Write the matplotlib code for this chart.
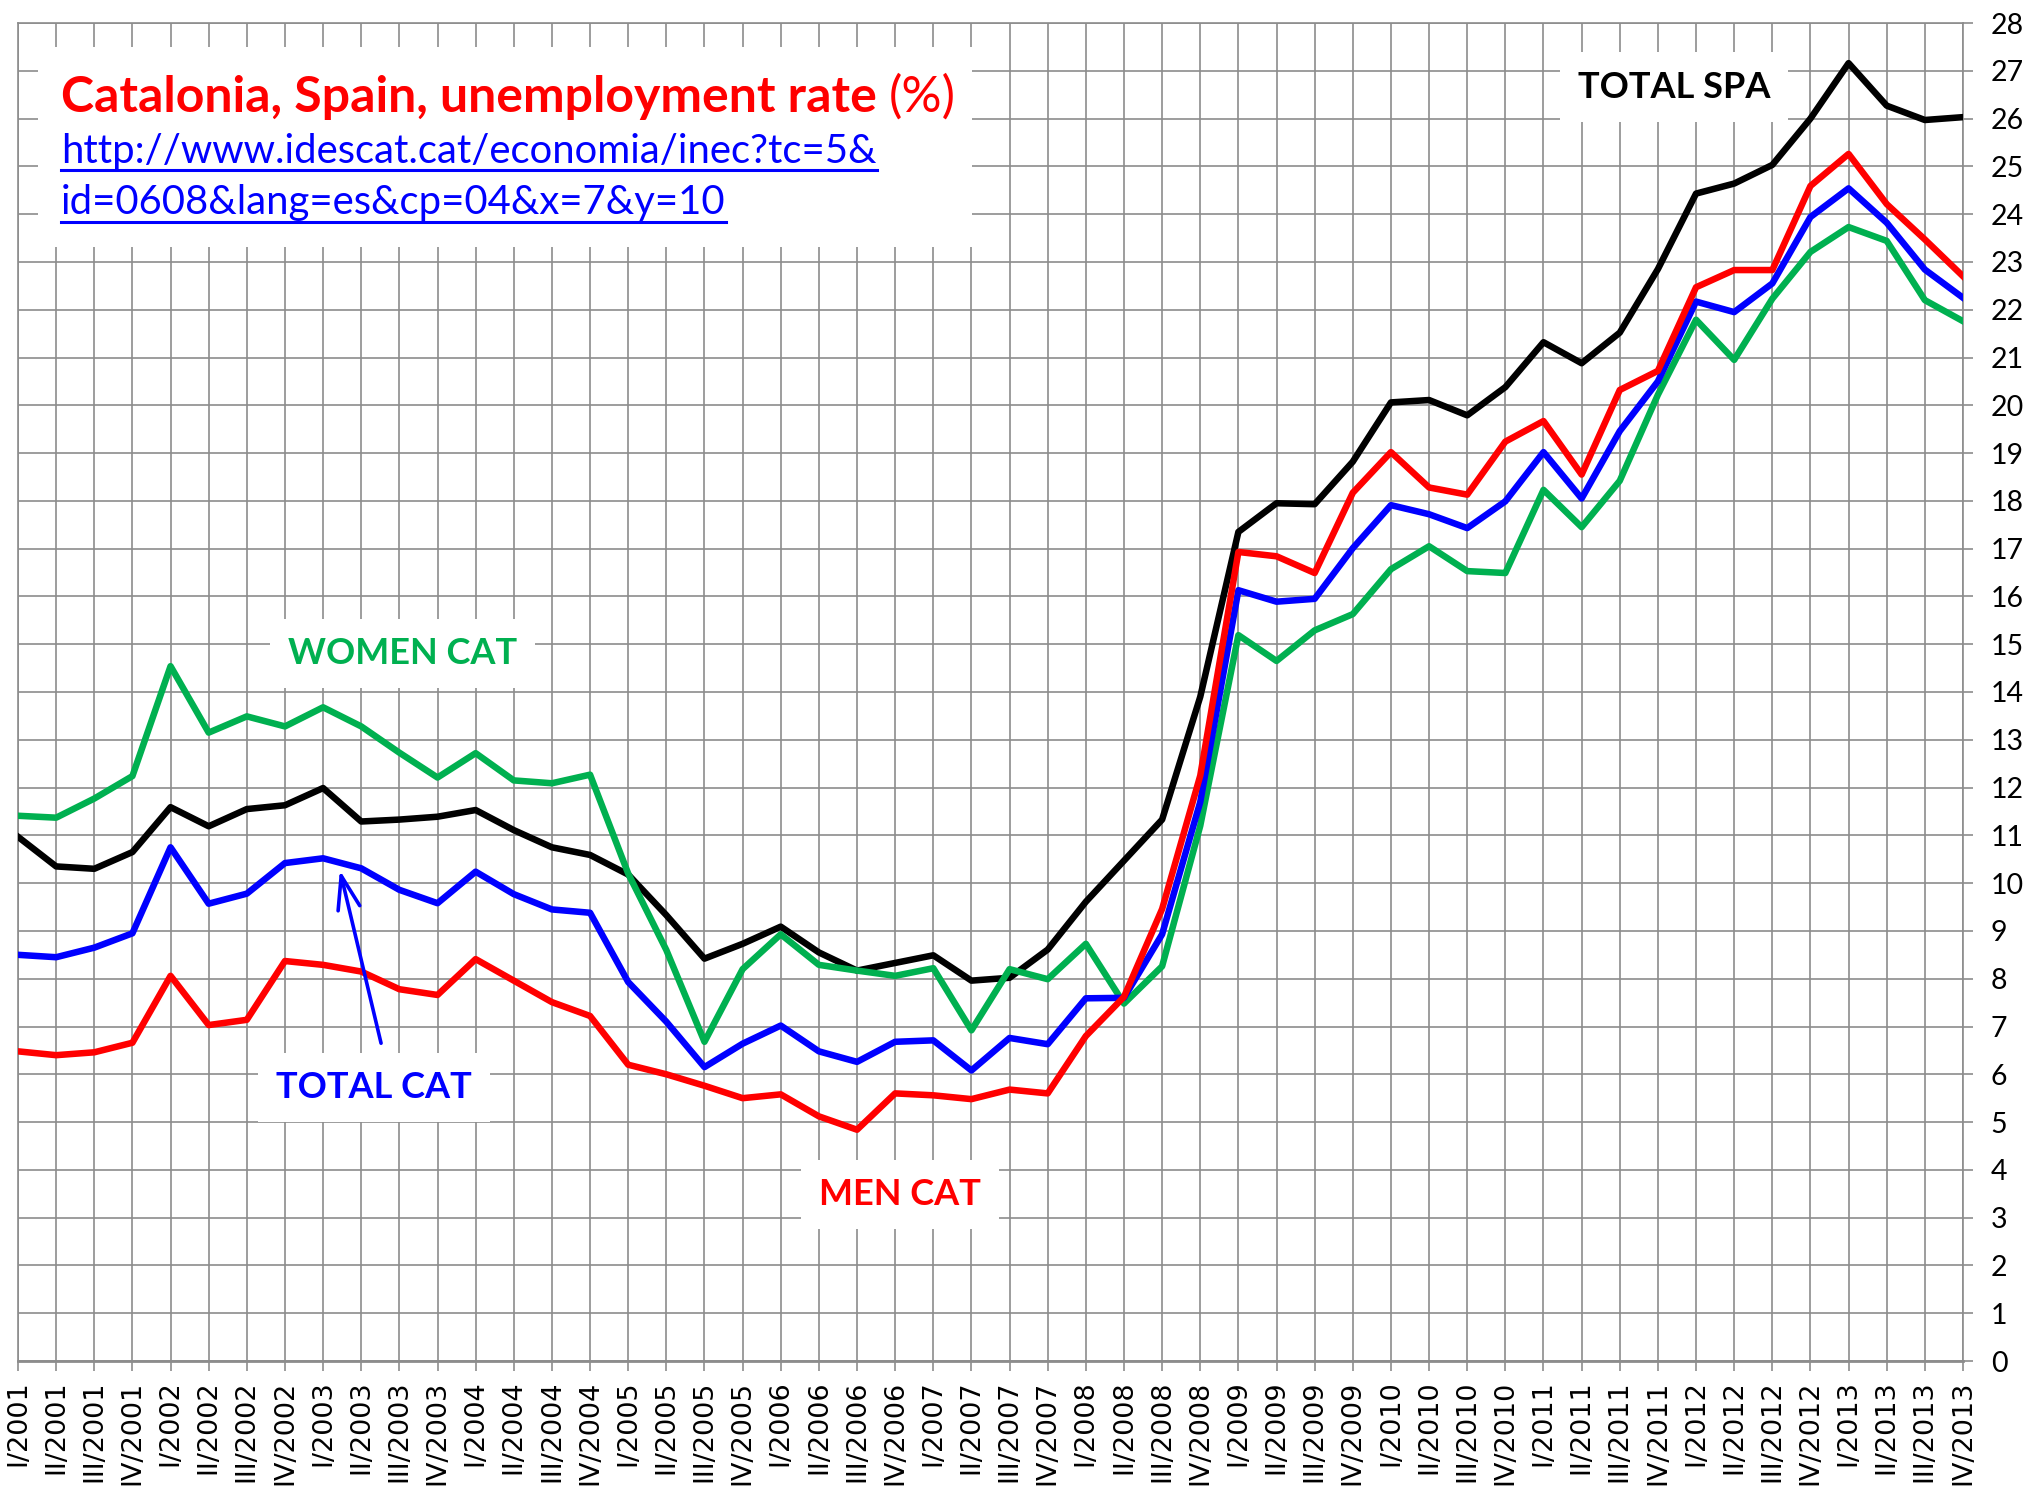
import matplotlib
matplotlib.use('Agg')
import matplotlib.pyplot as plt
from matplotlib.patches import Rectangle
from matplotlib.lines import Line2D

# quarters I/2001 .. IV/2013
years = list(range(2001, 2014))
quarter_names = ['I', 'II', 'III', 'IV']
labels = [q + '/' + str(y) for y in years for q in quarter_names]

# unemployment rate (%)
total_spa = [10.97, 10.35, 10.30, 10.65, 11.59, 11.19, 11.55, 11.63, 11.99, 11.29, 11.33, 11.39,
             11.53, 11.11, 10.75, 10.59, 10.18, 9.33, 8.42, 8.73, 9.09, 8.55, 8.17, 8.33,
             8.49, 7.96, 8.02, 8.61, 9.61, 10.47, 11.33, 13.90, 17.35, 17.95, 17.93, 18.82,
             20.06, 20.11, 19.79, 20.38, 21.32, 20.88, 21.52, 22.85, 24.43, 24.64, 25.03, 26.00,
             27.16, 26.27, 25.97, 26.03]
women_cat = [11.41, 11.37, 11.77, 12.24, 14.54, 13.15, 13.49, 13.28, 13.68, 13.28, 12.73, 12.21,
             12.72, 12.15, 12.09, 12.27, 10.20, 8.60, 6.68, 8.20, 8.93, 8.29, 8.17, 8.06,
             8.22, 6.92, 8.20, 7.99, 8.73, 7.48, 8.26, 11.20, 15.19, 14.65, 15.29, 15.63,
             16.57, 17.05, 16.53, 16.49, 18.23, 17.45, 18.42, 20.22, 21.79, 20.95, 22.23, 23.21,
             23.73, 23.44, 22.20, 21.76]
total_cat = [8.50, 8.45, 8.65, 8.95, 10.75, 9.57, 9.78, 10.42, 10.52, 10.31, 9.86, 9.58,
             10.24, 9.77, 9.45, 9.38, 7.93, 7.10, 6.15, 6.64, 7.02, 6.48, 6.26, 6.68,
             6.71, 6.08, 6.76, 6.63, 7.59, 7.60, 8.93, 11.70, 16.13, 15.89, 15.95, 17.01,
             17.91, 17.72, 17.43, 17.99, 19.02, 18.05, 19.46, 20.50, 22.17, 21.95, 22.55, 23.94,
             24.54, 23.82, 22.84, 22.25]
men_cat = [6.48, 6.40, 6.46, 6.66, 8.06, 7.03, 7.14, 8.37, 8.29, 8.15, 7.78, 7.66,
           8.41, 7.96, 7.51, 7.22, 6.20, 6.00, 5.76, 5.50, 5.58, 5.12, 4.84, 5.60,
           5.56, 5.48, 5.68, 5.60, 6.80, 7.62, 9.46, 12.25, 16.93, 16.84, 16.49, 18.17,
           19.02, 18.28, 18.13, 19.24, 19.67, 18.55, 20.32, 20.72, 22.47, 22.83, 22.83, 24.59,
           25.26, 24.21, 23.47, 22.70]

grid_col = '#8c8c8c'
W, H = 2028, 1487

fig = plt.figure(figsize=(W / 100, H / 100), dpi=100)
ax = fig.add_axes([18 / W, 1 - 1361 / H, (1963 - 18) / W, (1361 - 23) / H])

x = list(range(len(labels)))
ax.plot(x, total_spa, color='black', lw=4.7, solid_joinstyle='round', zorder=4)
ax.plot(x, women_cat, color='#00b050', lw=4.7, solid_joinstyle='round', zorder=4)
ax.plot(x, total_cat, color='#0000ff', lw=4.7, solid_joinstyle='round', zorder=4)
ax.plot(x, men_cat, color='#ff0000', lw=4.7, solid_joinstyle='round', zorder=4)

ax.set_xlim(0, len(labels) - 1)
ax.set_ylim(0, 28)
ax.set_xticks(x)
ax.set_xticklabels(labels, rotation=90, fontsize=19.5, family='DejaVu Sans')
ax.set_yticks(range(0, 29))
ax.yaxis.tick_right()
for t in ax.get_yticklabels():
    t.set_family('Lato')
    t.set_fontsize(20.5)
ax.tick_params(axis='x', direction='out', length=7, width=1.2, color=grid_col, pad=7)
ax.tick_params(axis='y', direction='out', length=7, width=1.2, color=grid_col, pad=13)
ax.grid(True, color=grid_col, lw=1.2)
ax.set_axisbelow(True)
for s in ax.spines.values():
    s.set_color(grid_col)
    s.set_linewidth(1.2)
ax.spines['bottom'].set_linewidth(2)

# series labels
lab = dict(fontsize=26, fontweight='bold', family='Lato', ha='center', va='baseline', zorder=3,
           bbox=dict(boxstyle='square,pad=0.5', fc='white', ec='none'))
ax.text(10.09, 14.58, 'WOMEN CAT', color='#00b050', **lab)
ax.text(43.42, 26.44, 'TOTAL SPA', color='black', **lab)
ax.text(9.33, 5.51, 'TOTAL CAT', color='#0000ff', **lab)
ax.text(23.12, 3.26, 'MEN CAT', color='#ff0000', **lab)

ax.annotate('', xy=(8.44, 10.27), xytext=(9.52, 6.65), zorder=5,
            arrowprops=dict(arrowstyle='->,head_length=0.75,head_width=0.25', color='#0000ff',
                            lw=2.6, mutation_scale=32, shrinkA=0, shrinkB=0))

# title block
ax.add_patch(Rectangle((38 / W, 1 - 247 / H), (972 - 38) / W, 200 / H, transform=fig.transFigure,
                       fc='white', ec='none', zorder=2))
t1 = fig.text(61 / W, 1 - 112 / H, 'Catalonia, Spain, unemployment rate ', color='#ff0000',
              fontsize=36, fontweight='bold', family='Lato', va='baseline', zorder=6)
u1 = fig.text(61 / W, 1 - 163 / H, 'http://www.idescat.cat/economia/inec?tc=5&', color='#0000ff',
              fontsize=28.8, family='Lato', va='baseline', zorder=6)
u2 = fig.text(61 / W, 1 - 214 / H, 'id=0608&lang=es&cp=04&x=7&y=10', color='#0000ff',
              fontsize=28.8, family='Lato', va='baseline', zorder=6)

fig.canvas.draw()
r = fig.canvas.get_renderer()
bb = t1.get_window_extent(r)
fig.text(bb.x1 / W, 1 - 112 / H, '(%)', color='#ff0000', fontsize=36, family='Lato',
         va='baseline', zorder=6)
for u, yy in [(u1, 170), (u2, 222)]:
    b = u.get_window_extent(r)
    fig.add_artist(Line2D([b.x0 / W, b.x1 / W], [1 - yy / H, 1 - yy / H], color='#0000ff',
                          lw=2.2, transform=fig.transFigure, zorder=6))

fig.savefig('out.png', dpi=100, facecolor='white')
